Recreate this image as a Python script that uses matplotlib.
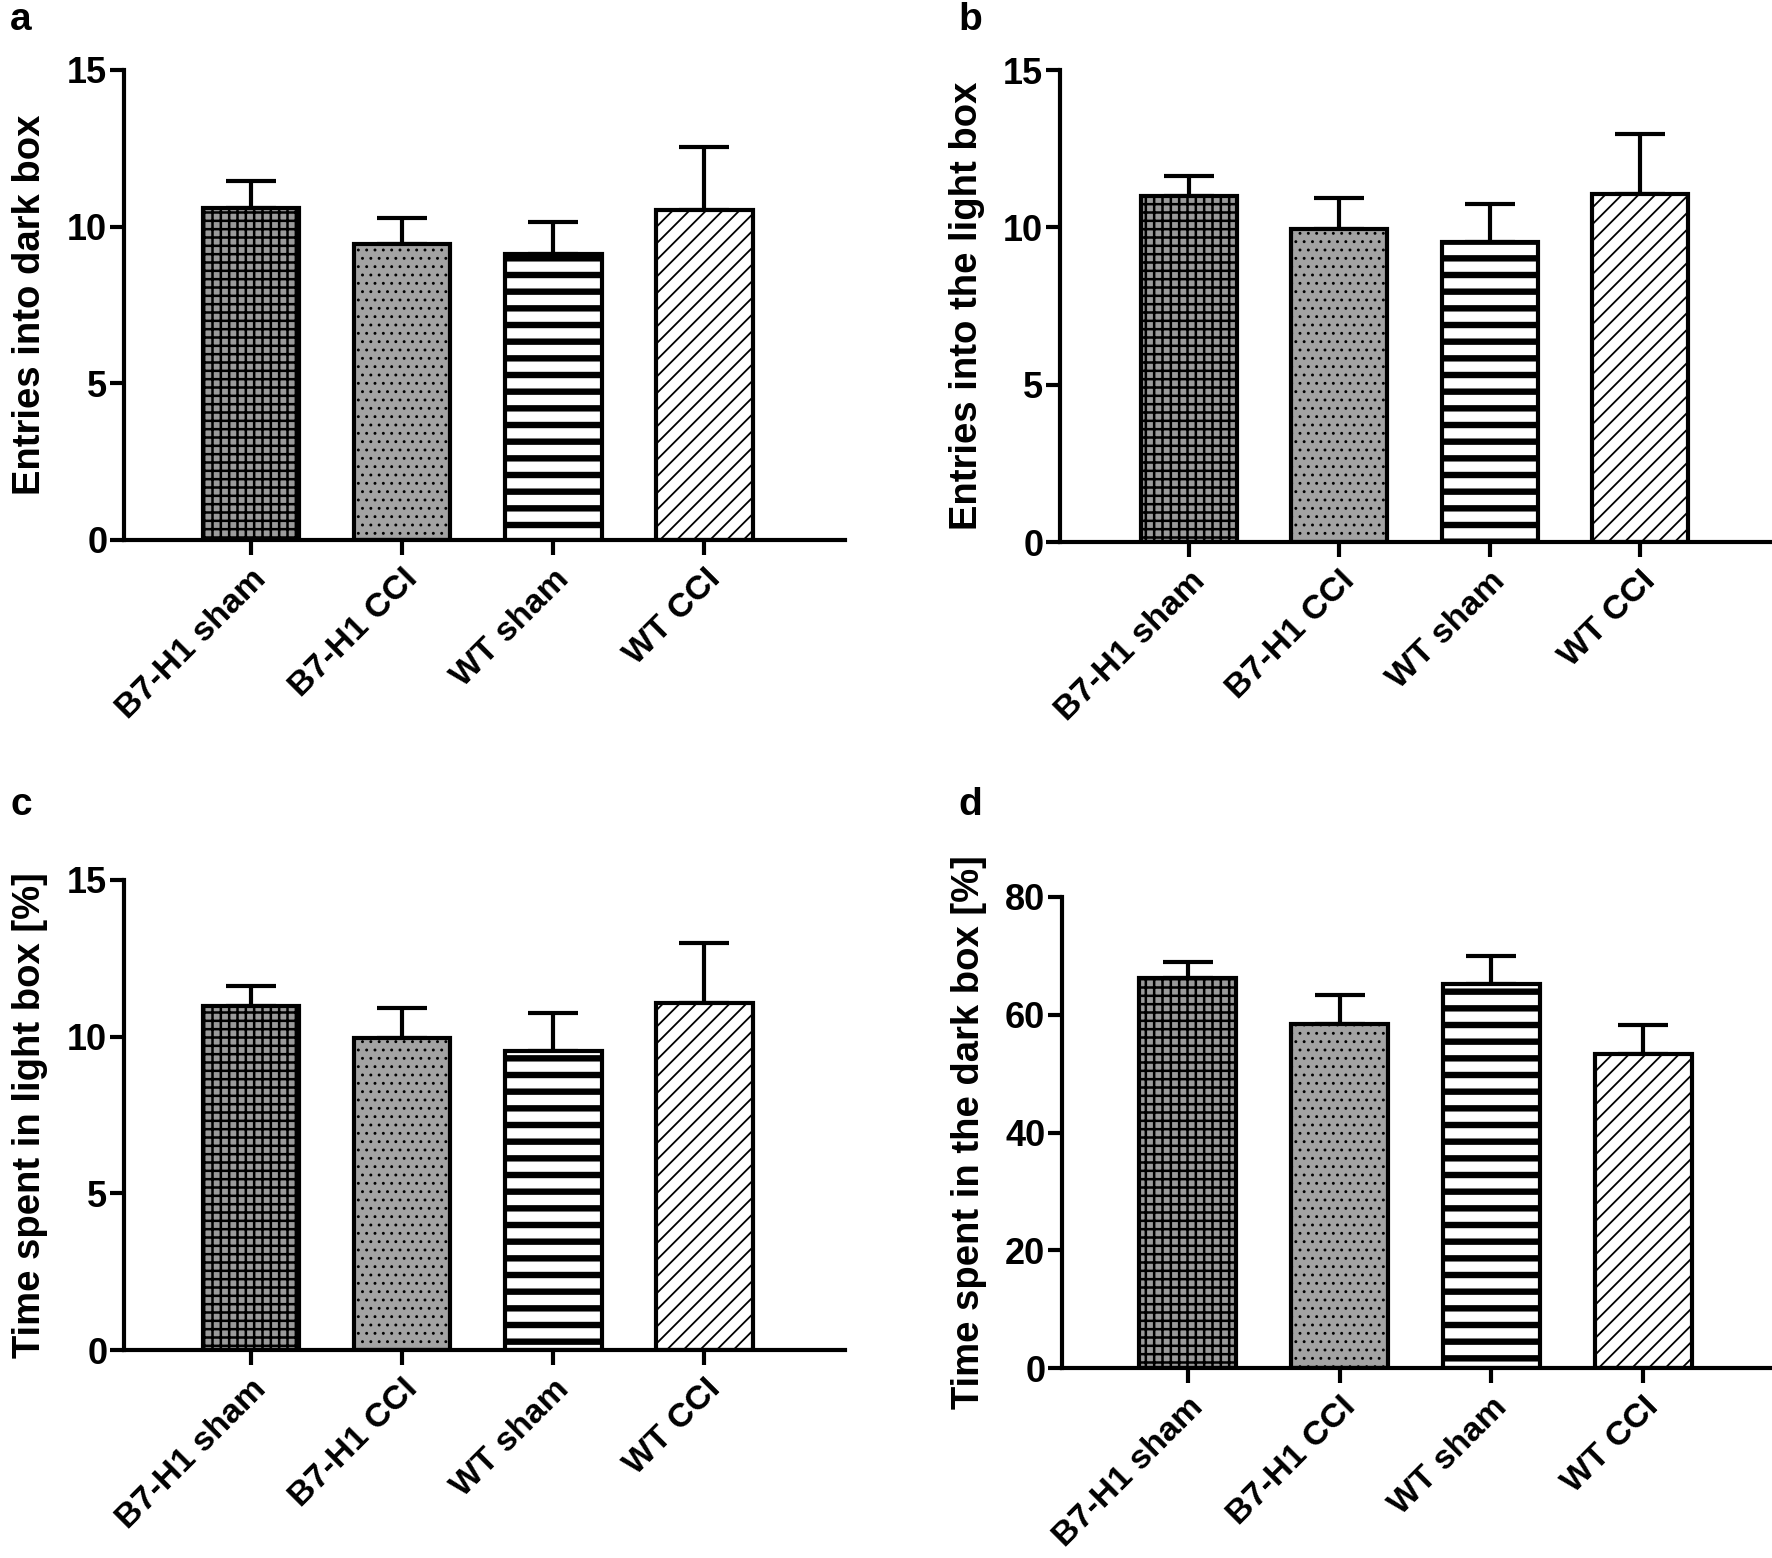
import matplotlib
matplotlib.use("Agg")
import matplotlib.pyplot as plt
from matplotlib import font_manager
from matplotlib.transforms import ScaledTranslation

names = {f.name for f in font_manager.fontManager.ttflist}
FONT = "Liberation Sans" if "Liberation Sans" in names else "DejaVu Sans"
plt.rcParams["font.family"] = [FONT, "DejaVu Sans"]
plt.rcParams["font.weight"] = "bold"

# ---------------- data ----------------
groups = ["B7-H1 sham", "B7-H1 CCI", "WT sham", "WT CCI"]

entries_dark_mean = [10.61, 9.44, 9.13, 10.52]
entries_dark_sem = [0.86, 0.83, 1.03, 2.03]

entries_light_mean = [10.98, 9.95, 9.52, 11.07]
entries_light_sem = [0.65, 0.98, 1.22, 1.90]

time_light_mean = [10.97, 9.95, 9.54, 11.08]
time_light_sem = [0.65, 0.98, 1.22, 1.92]

time_dark_mean = [66.3, 58.5, 65.2, 53.4]
time_dark_sem = [2.7, 4.9, 4.7, 4.8]

ylabels = ["Entries into dark box", "Entries into the light box",
           "Time spent in light box [%]", "Time spent in the dark box [%]"]
panel_letters = ["a", "b", "c", "d"]
yticks_list = [[0, 5, 10, 15], [0, 5, 10, 15], [0, 5, 10, 15], [0, 20, 40, 60, 80]]

# ---------------- styles ----------------
faces = ["#9a9a9a", "#a3a3a3", "white", "white"]
hatches = ["++", "..", "-", "//"]
hatch_lw = [1.8, 0.9, 4.6, 1.3]

W, H = 1772, 1558
fig = plt.figure(figsize=(W / 100, H / 100), dpi=100)

def frac(l, r, t, b):
    return [l / W, 1 - b / H, (r - l) / W, (b - t) / H]

axes_px = [
    (124, 845, 70, 540),
    (1060, 1772, 70, 542),
    (124, 845, 880, 1350),
    (1062, 1772, 897, 1368),
]
xlims = [(-0.84, 3.93), (-0.86, 3.88), (-0.84, 3.93), (-0.83, 3.85)]
letter_pos = [(10, 30), (958, 30), (10, 815), (958, 815)]

means = [entries_dark_mean, entries_light_mean, time_light_mean, time_dark_mean]
sems = [entries_dark_sem, entries_light_sem, time_light_sem, time_dark_sem]
LW = 3.0
shift = ScaledTranslation(-9 / 100, 0, fig.dpi_scale_trans)

for i in range(4):
    ax = fig.add_axes(frac(*axes_px[i]))
    x = list(range(len(groups)))
    m, s = means[i], sems[i]
    ax.errorbar(x, m, yerr=[[0] * 4, s], fmt="none", ecolor="black",
                elinewidth=LW, capsize=18, capthick=LW, zorder=1)
    for j in range(4):
        with plt.rc_context({"hatch.linewidth": hatch_lw[j]}):
            b = ax.bar(x[j], m[j], width=0.64, color=faces[j], edgecolor="black",
                       linewidth=LW, hatch=hatches[j], zorder=2)
            for p in b.patches:
                if hasattr(p, "set_hatch_linewidth"):
                    p.set_hatch_linewidth(hatch_lw[j])
    yt = yticks_list[i]
    ax.set_ylim(0, yt[-1])
    ax.set_xlim(*xlims[i])
    ax.set_yticks(yt)
    ax.set_xticks(x)
    ax.set_xticklabels(groups, rotation=45, ha="right", va="top",
                       rotation_mode="anchor", fontsize=24.6, fontweight="bold")
    for lab in ax.get_xticklabels():
        lab.set_transform(lab.get_transform() + shift)
    for lab in ax.get_yticklabels():
        lab.set_fontsize(26)
        lab.set_fontweight("bold")
    ax.spines["top"].set_visible(False)
    ax.spines["right"].set_visible(False)
    ax.spines["left"].set_linewidth(LW)
    ax.spines["bottom"].set_linewidth(LW)
    ax.spines["left"].set_zorder(3)
    ax.spines["bottom"].set_zorder(3)
    ax.tick_params(axis="y", length=10, width=LW, pad=2)
    ax.tick_params(axis="x", length=11, width=LW, pad=6)
    ax.set_ylabel(ylabels[i], fontsize=27.5, fontweight="bold")
    ax.yaxis.set_label_coords(-0.105, 0.5)
    ax.patch.set_visible(False)
    fig.text(letter_pos[i][0] / W, 1 - letter_pos[i][1] / H, panel_letters[i],
             fontsize=28, fontweight="bold", ha="left", va="baseline")

fig.savefig("out.png", dpi=100, facecolor="white")
